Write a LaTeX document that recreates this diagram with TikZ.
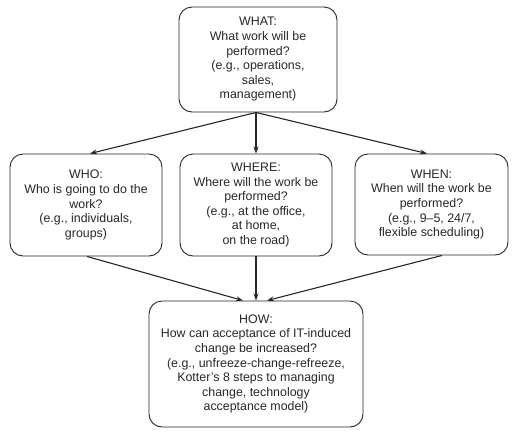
\documentclass[tikz,border=0pt]{standalone}
\usepackage{fontspec}
\setmainfont{Liberation Sans}
\usetikzlibrary{arrows.meta,calc}
\definecolor{ink}{HTML}{262626}
\begin{document}
\begin{tikzpicture}[x=1pt,y=-1pt,
  box/.style={draw=ink,line width=0.9pt,rounded corners=13pt,align=center,
    text=ink,inner sep=0pt,font=\fontsize{12.4}{14.6}\selectfont},
  conn/.style={draw=ink,line width=1.1pt,-{Stealth[length=7pt,width=5pt]}}]
\useasboundingbox (0,0) rectangle (514,432);
\node[box,minimum width=158,minimum height=105] (what) at (258,59.5)
  {WHAT:\\What work will be\\performed?\\(e.g., operations,\\sales,\\management)};
\node[box,minimum width=152,minimum height=102] (who) at (86,205)
  {WHO:\\Who is going to do the\\work?\\(e.g., individuals,\\groups)};
\node[box,minimum width=152,minimum height=102] (where) at (256,205)
  {WHERE:\\Where will the work be\\performed?\\(e.g., at the office,\\at home,\\on the road)};
\node[box,minimum width=153,minimum height=101] (when) at (431.5,204.5)
  {WHEN:\\When will the work be\\performed?\\(e.g., 9--5, 24/7,\\flexible scheduling)};
\node[box,minimum width=214,minimum height=126] (how) at (256,364)
  {HOW:\\How can acceptance of IT-induced\\change be increased?\\(e.g., unfreeze-change-refreeze,\\Kotter's 8 steps to managing\\change, technology\\acceptance model)};
\coordinate (wa) at ($(what.south)+(-2,0)$);
\coordinate (whoin) at ($(who.north)+(4,0)$);
\coordinate (whenin) at ($(when.north)+(-4.5,0)$);
\coordinate (whoout) at ($(who.south)+(1,0)$);
\coordinate (whenout) at ($(when.south)+(10.5,0)$);
\coordinate (howl) at ($(how.north)+(-13,0)$);
\coordinate (howr) at ($(how.north)+(11,0)$);
\draw[conn] (wa) -- (whoin);
\draw[conn] (wa) -- (where.north);
\draw[conn] (wa) -- (whenin);
\draw[conn] (whoout) -- (howl);
\draw[conn] (where.south) -- (how.north);
\draw[conn] (whenout) -- (howr);
\end{tikzpicture}
\end{document}
